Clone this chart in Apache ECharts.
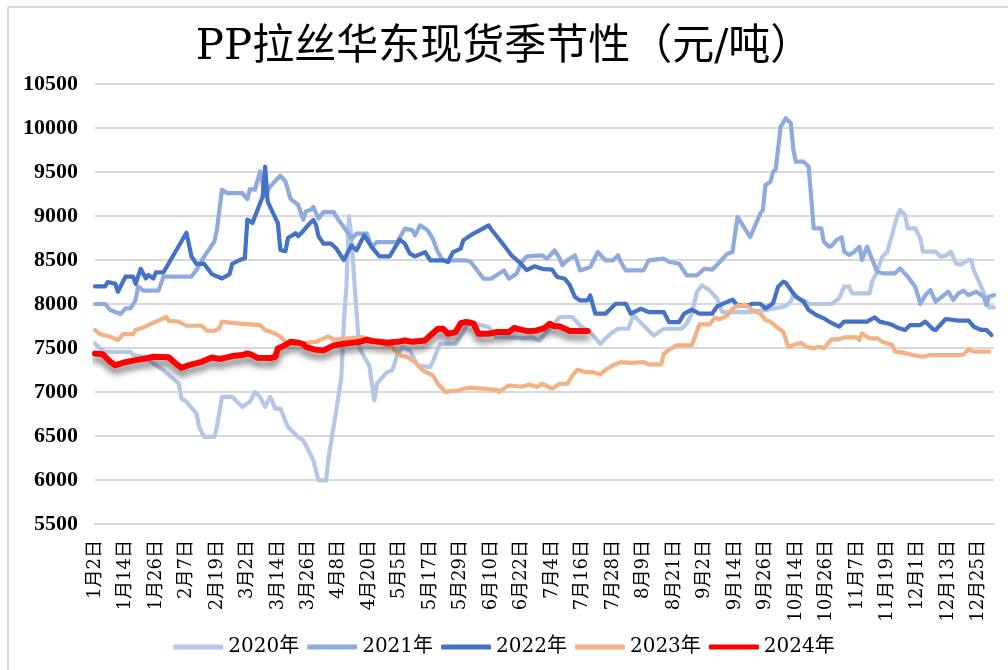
<!DOCTYPE html>
<html>
<head>
<meta charset="utf-8">
<script src="https://cdn.jsdelivr.net/npm/echarts@6/dist/echarts.min.js"></script>
<style>html,body{margin:0;padding:0;background:#fff}#c{width:1008px;height:670px}</style>
</head>
<body>
<div id="c"></div>
<script>
// Category dates (trading-calendar days, holidays skipped)
const skipDays = ['4-4', '5-1', '5-2', '5-3', '10-1', '10-2', '10-3', '10-4', '10-5', '10-6'];
const monthLengths = [31, 29, 31, 30, 31, 30, 31, 31, 30, 31, 30, 31];
const categories = [];
for (let m = 1; m <= 12; m++) {
  for (let d = 1; d <= monthLengths[m - 1]; d++) {
    if (m === 1 && d === 1) continue;
    if (skipDays.indexOf(m + '-' + d) >= 0) continue;
    categories.push(m + '月' + d + '日');
  }
}

const legendNames = ['2020年', '2021年', '2022年', '2023年', '2024年'];
const yTicks = { min: 5500, max: 10500, interval: 500 };

// [category index, price]
const s2020 = [[0,7552],[2,7495],[4,7457],[14,7457],[15,7419],[20,7400],[23,7324],[27,7248],[30,7172],[33,7097],[34,6926],[36,6888],[40,6755],[41,6603],[43,6489],[47,6489],[48,6603],[50,6945],[54,6945],[56,6888],[58,6831],[61,6888],[63,7002],[65,6945],[67,6831],[69,6945],[71,6812],[73,6812],[76,6603],[78,6546],[80,6489],[82,6451],[84,6340],[86,6222],[88,5995],[91,5995],[92,6260],[95,6790],[97,7170],[98,7800],[99,8200],[100,9000],[101,8750],[102,8300],[103,7900],[104,7510],[106,7397],[108,7302],[110,6904],[111,7094],[115,7226],[117,7245],[119,7416],[121,7510],[124,7473],[127,7302],[132,7283],[133,7340],[135,7492],[136,7548],[142,7548],[145,7681],[147,7814],[150,7776],[155,7738],[158,7624],[163,7624],[168,7610],[172,7620],[175,7586],[179,7719],[183,7852],[188,7852],[191,7757],[195,7681],[199,7548],[203,7662],[206,7719],[210,7719],[212,7871],[216,7757],[220,7643],[224,7719],[231,7719],[233,7776],[235,7890],[237,8136],[239,8212],[242,8155],[245,8060],[247,7908],[258,7908],[262,7924],[264,7930],[267,7950],[270,7960],[272,7980],[274,8026],[275,8121],[277,8064],[280,8030],[281,8000],[290,8000],[293,8064],[295,8197],[297,8197],[298,8121],[305,8121],[306,8254],[308,8367],[310,8538],[312,8595],[314,8803],[316,9011],[317,9068],[319,9011],[320,8860],[323,8860],[325,8746],[326,8595],[331,8595],[333,8538],[335,8550],[337,8595],[339,8462],[341,8450],[344,8500],[345,8500],[346,8386],[349,8197],[351,8045],[352,7962],[354,7962]];

const s2021 = [[0,8000],[4,8000],[6,7932],[10,7886],[12,7951],[14,7951],[16,8046],[17,8198],[19,8152],[25,8152],[27,8312],[38,8312],[40,8388],[43,8539],[47,8710],[48,8843],[50,9299],[52,9261],[58,9261],[60,9192],[61,9306],[63,9300],[65,9508],[67,9223],[69,9337],[73,9458],[75,9394],[77,9192],[80,9128],[82,8957],[83,9052],[85,9071],[86,9102],[88,8970],[90,9045],[94,9045],[96,8951],[98,8875],[101,8742],[103,8799],[107,8799],[109,8648],[111,8704],[119,8704],[122,8856],[125,8840],[126,8780],[128,8894],[131,8837],[133,8742],[135,8591],[137,8496],[146,8496],[148,8477],[153,8287],[156,8287],[161,8382],[163,8287],[166,8344],[168,8477],[170,8541],[176,8553],[178,8515],[181,8610],[183,8515],[184,8439],[186,8496],[189,8553],[191,8382],[195,8420],[198,8591],[201,8496],[204,8496],[206,8553],[207,8480],[209,8382],[216,8382],[218,8496],[224,8515],[226,8480],[230,8458],[233,8325],[237,8325],[240,8401],[243,8390],[246,8477],[249,8572],[251,8591],[253,8989],[258,8761],[262,9030],[263,9068],[264,9352],[266,9390],[267,9504],[268,9523],[270,10015],[272,10110],[274,10053],[275,9750],[276,9617],[279,9617],[281,9561],[282,9220],[283,8860],[286,8860],[287,8708],[289,8652],[290,8660],[292,8727],[294,8758],[295,8595],[297,8557],[299,8595],[301,8652],[302,8500],[304,8652],[308,8367],[310,8348],[315,8348],[317,8405],[320,8311],[323,8197],[325,8000],[327,8102],[329,8159],[331,8026],[336,8140],[338,8045],[340,8121],[342,8152],[344,8100],[347,8140],[350,8083],[351,7989],[352,8083],[354,8102]];

const s2022 = [[0,8200],[4,8200],[5,8250],[8,8230],[9,8140],[12,8310],[15,8310],[16,8230],[18,8400],[20,8290],[21,8330],[23,8290],[24,8360],[27,8360],[36,8810],[38,8540],[40,8455],[43,8455],[46,8340],[50,8290],[53,8340],[54,8455],[57,8500],[59,8520],[60,8960],[62,8920],[66,9220],[67,9560],[68,9165],[69,9100],[72,8920],[73,8615],[75,8600],[76,8750],[79,8805],[80,8770],[82,8830],[84,8900],[86,8955],[87,8900],[88,8770],[90,8685],[93,8685],[95,8630],[98,8500],[101,8666],[103,8610],[106,8780],[109,8647],[112,8541],[116,8541],[120,8731],[122,8685],[124,8572],[126,8541],[130,8590],[132,8496],[137,8496],[139,8477],[141,8590],[144,8630],[145,8723],[149,8800],[152,8845],[155,8894],[156,8850],[160,8704],[164,8553],[167,8477],[170,8385],[173,8428],[176,8400],[180,8390],[182,8306],[185,8287],[187,8212],[189,8079],[191,8041],[194,8041],[195,8098],[197,7890],[201,7890],[205,8003],[209,8003],[211,7890],[215,7946],[218,7908],[224,7908],[226,7795],[230,7795],[232,7890],[235,7935],[238,7890],[243,7890],[245,7973],[251,8049],[253,7984],[257,7984],[259,8003],[262,8003],[264,7950],[267,8008],[269,8197],[271,8254],[272,8242],[275,8121],[276,8083],[279,8027],[281,7932],[284,7875],[287,7837],[289,7800],[293,7742],[295,7800],[304,7800],[307,7848],[309,7800],[313,7773],[316,7731],[319,7705],[321,7761],[325,7761],[327,7800],[330,7712],[331,7705],[335,7830],[340,7811],[344,7811],[346,7742],[349,7705],[351,7705],[353,7648]];

const s2023 = [[0,7704],[2,7658],[6,7628],[9,7590],[11,7658],[15,7658],[16,7704],[19,7734],[24,7799],[27,7837],[28,7856],[29,7810],[33,7800],[36,7753],[42,7753],[44,7696],[47,7696],[49,7723],[50,7799],[56,7780],[65,7761],[67,7704],[71,7666],[73,7628],[75,7571],[77,7552],[82,7550],[86,7571],[87,7567],[89,7598],[92,7632],[94,7594],[105,7624],[109,7586],[117,7510],[120,7416],[123,7397],[126,7340],[129,7245],[133,7188],[135,7094],[138,6999],[140,7010],[143,7015],[145,7037],[148,7050],[158,7025],[159,7000],[163,7075],[168,7060],[171,7086],[174,7056],[176,7094],[180,7037],[183,7094],[186,7094],[188,7188],[190,7253],[193,7226],[196,7226],[199,7200],[201,7253],[204,7302],[207,7340],[211,7330],[216,7340],[218,7313],[223,7313],[224,7435],[226,7480],[229,7530],[235,7530],[238,7768],[242,7768],[244,7844],[246,7825],[249,7871],[251,7946],[253,7984],[254,7975],[256,7996],[259,7927],[262,7894],[264,7818],[266,7800],[269,7724],[271,7686],[273,7515],[275,7534],[278,7561],[280,7515],[283,7496],[285,7515],[287,7496],[290,7598],[293,7598],[295,7621],[300,7621],[301,7591],[302,7667],[305,7610],[308,7610],[310,7572],[314,7534],[315,7458],[318,7447],[322,7420],[326,7401],[329,7420],[340,7420],[342,7425],[344,7485],[346,7458],[352,7458]];

const s2024 = [[0,7438],[3,7430],[6,7343],[8,7305],[11,7332],[16,7362],[20,7381],[23,7400],[29,7395],[31,7343],[34,7275],[37,7305],[42,7343],[46,7393],[49,7375],[52,7393],[54,7408],[58,7420],[60,7438],[62,7420],[64,7389],[69,7385],[71,7400],[72,7495],[75,7533],[77,7571],[80,7560],[82,7545],[83,7514],[87,7480],[90,7473],[94,7530],[98,7548],[104,7567],[107,7594],[109,7580],[112,7570],[115,7560],[119,7570],[122,7586],[125,7570],[130,7586],[132,7643],[135,7719],[137,7719],[139,7662],[142,7680],[144,7783],[146,7795],[149,7780],[151,7662],[155,7662],[158,7681],[163,7681],[165,7727],[169,7700],[171,7690],[174,7700],[177,7727],[179,7776],[181,7746],[183,7746],[185,7719],[187,7692],[194,7692]];

const seriesData = [s2020, s2021, s2022, s2023, s2024];
const colors = ['#B4C7E7', '#8FAADC', '#4472C4', '#F4B183', '#FF0000'];
const widths = [4.2, 4.2, 4.2, 4.2, 6];

const chart = echarts.init(document.getElementById('c'), null, { renderer: 'canvas' });
const serifFont = '"DejaVu Serif", "Noto Sans CJK SC", serif';

chart.setOption({
  animation: false,
  backgroundColor: '#fff',
  title: {
    text: 'PP拉丝华东现货季节性（元/吨）',
    left: 'center',
    top: 22,
    textStyle: { fontSize: 42, fontWeight: 'normal', color: '#000', fontFamily: serifFont }
  },
  graphic: [
    { type: 'line', shape: { x1: 8, y1: 7, x2: 8, y2: 670 }, style: { stroke: '#d9d9d9', lineWidth: 2 } },
    { type: 'line', shape: { x1: 8, y1: 7, x2: 1008, y2: 7 }, style: { stroke: '#d9d9d9', lineWidth: 2 } }
  ],
  legend: {
    data: legendNames,
    bottom: 8,
    left: 'center',
    icon: 'roundRect',
    itemWidth: 50,
    itemHeight: 5,
    itemGap: 8,
    textStyle: { fontSize: 20, color: '#000', fontFamily: serifFont }
  },
  grid: { left: 95, right: 14, top: 84, bottom: 146, containLabel: false },
  xAxis: {
    type: 'category',
    data: categories,
    boundaryGap: false,
    axisLine: { show: true, lineStyle: { color: '#d9d9d9', width: 2 } },
    axisTick: { show: false },
    axisLabel: { interval: 11, rotate: 90, fontSize: 18, color: '#000', margin: 16, fontFamily: serifFont },
    splitLine: { show: false }
  },
  yAxis: {
    type: 'value',
    min: yTicks.min,
    max: yTicks.max,
    interval: yTicks.interval,
    axisLine: { show: false },
    axisTick: { show: false },
    axisLabel: {
      fontSize: 22, fontWeight: 'bold', color: '#000', margin: 17,
      fontFamily: '"Liberation Serif", serif',
      formatter: (v) => String(v)
    },
    splitLine: { show: true, lineStyle: { color: '#d9d9d9', width: 2 } }
  },
  series: seriesData.map((d, i) => ({
    name: legendNames[i],
    type: 'line',
    data: d,
    showSymbol: false,
    symbol: 'none',
    color: colors[i],
    z: 2 + i,
    lineStyle: Object.assign({ color: colors[i], width: widths[i], cap: 'round', join: 'round' },
      i === 4 ? { shadowColor: 'rgba(0,0,0,0.5)', shadowBlur: 6, shadowOffsetY: 6 } : {})
  }))
});
</script>
</body>
</html>
